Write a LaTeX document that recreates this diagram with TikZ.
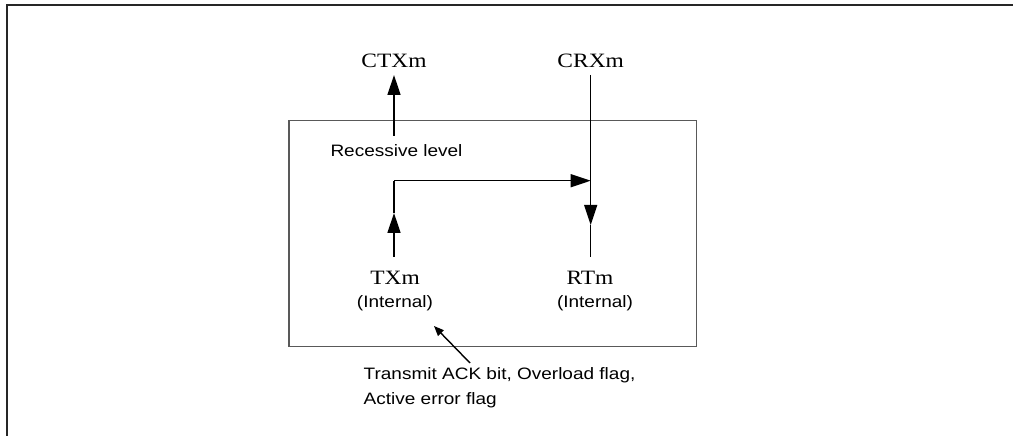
\documentclass[tikz,border=0pt]{standalone}
\usepackage{fontspec}
\setmainfont{Liberation Serif}[FakeStretch=1.15]
\setsansfont{Liberation Sans}[FakeStretch=1.15]
\usetikzlibrary{arrows.meta}

\begin{document}
\begin{tikzpicture}[>={Triangle[length=2mm, width=1.3mm]},
    pin/.style={font=\fontsize{5.8}{6}\selectfont, inner sep=0},
    note/.style={font=\sffamily\fontsize{4.7}{7}\selectfont, inner sep=0},
    wire/.style={line width=0.4pt}]
  \useasboundingbox (0, 0) rectangle (10.13, 4.36);
  \draw[line width=0.57pt, black!85] (0.07, 0) -- (0.07, 4.31) -- (10.13, 4.31);

  \draw[line width=0.45pt, black!65] (2.89, 0.893) rectangle (6.963, 3.153);

  \node[pin] (ctx) at (3.94, 3.753) {CTXm};
  \node[pin] (crx) at (5.907, 3.753) {CRXm};
  \node[note] (rec) at (3.965, 2.853) {Recessive level};
  \node[pin] (tx) at (3.95, 1.58) {TXm};
  \node[note] (txi) at (3.95, 1.33) {(Internal)};
  \node[pin] (rt) at (5.90, 1.58) {RTm};
  \node[note] (rti) at (5.95, 1.33) {(Internal)};
  \node[note, anchor=west, align=left] (ack) at (3.63, 0.485)
    {Transmit ACK bit, Overload flag,\\Active error flag};

  \coordinate (ctxtop) at (3.94, 3.61);
  \coordinate (ctxbot) at (3.94, 3.0);
  \coordinate (crxtop) at (5.907, 3.61);
  \coordinate (crxbot) at (5.907, 1.79);
  \coordinate (crxmid) at (5.907, 2.11);
  \coordinate (txbot) at (3.94, 1.79);
  \coordinate (txmid) at (3.94, 2.23);
  \coordinate (corner) at (3.94, 2.553);
  \coordinate (join) at (5.907, 2.553);
  \coordinate (tail) at (4.70, 0.73);
  \coordinate (hit) at (4.34, 1.10);

  \draw[wire, ->] (ctxbot) -- (ctxtop);
  \draw[wire, ->] (crxtop) -- (crxmid);
  \draw[wire] (crxmid) -- (crxbot);
  \draw[wire, ->] (txbot) -- (txmid);
  \draw[wire] (txmid) -- (corner);
  \draw[wire, ->] (corner) -- (join);
  \draw[wire, -{Triangle[length=1mm, width=0.8mm]}] (tail) -- (hit);
\end{tikzpicture}
\end{document}
